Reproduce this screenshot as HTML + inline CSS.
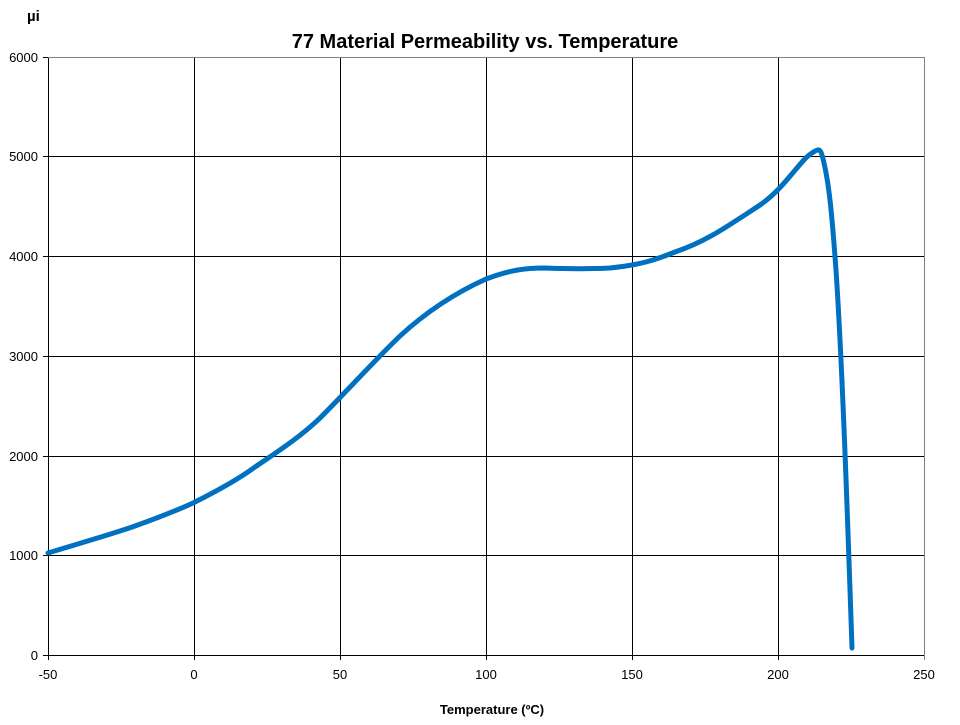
<!DOCTYPE html>
<html><head><style>body{margin:0;background:#fff}</style></head><body>
<svg width="960" height="720" xmlns="http://www.w3.org/2000/svg" font-family="Liberation Sans, sans-serif">
<rect width="960" height="720" fill="#fff"/>
<g stroke="#000" stroke-width="1">
<line x1="48" y1="156.5" x2="924" y2="156.5"/>
<line x1="48" y1="256.5" x2="924" y2="256.5"/>
<line x1="48" y1="356.5" x2="924" y2="356.5"/>
<line x1="48" y1="456.5" x2="924" y2="456.5"/>
<line x1="48" y1="555.5" x2="924" y2="555.5"/>
<line x1="194.5" y1="57" x2="194.5" y2="660"/>
<line x1="340.5" y1="57" x2="340.5" y2="660"/>
<line x1="486.5" y1="57" x2="486.5" y2="660"/>
<line x1="632.5" y1="57" x2="632.5" y2="660"/>
<line x1="778.5" y1="57" x2="778.5" y2="660"/>
<line x1="48.5" y1="57" x2="48.5" y2="660"/>
<line x1="43" y1="655.5" x2="924" y2="655.5"/>
<line x1="43" y1="57.5" x2="48" y2="57.5"/>
<line x1="43" y1="156.5" x2="48" y2="156.5"/><line x1="43" y1="256.5" x2="48" y2="256.5"/>
<line x1="43" y1="356.5" x2="48" y2="356.5"/><line x1="43" y1="456.5" x2="48" y2="456.5"/>
<line x1="43" y1="555.5" x2="48" y2="555.5"/>
</g>
<line x1="48" y1="57.5" x2="924" y2="57.5" stroke="#808080"/>
<line x1="924.5" y1="57" x2="924.5" y2="660" stroke="#808080"/>
<path d="M48,553 C70,546 110,535 135,526 C160,517 180,509 193,503 C215,492 240,478 255,467 C280,450 300,437 320,418 C345,393 375,360 400,336 C425,313 455,293 486,279 C510,270 525,268 545,268 C570,269 590,269 610,268 C640,265 655,260 675,252 C705,242 725,228 760,205 C785,188 800,160 812,153 C818,149 820,148 822,155 C829,180 832,215 836,270 C842,360 847,500 852,648" fill="none" stroke="#0070c0" stroke-width="5" stroke-linejoin="round" stroke-linecap="round"/>
<g font-size="13" text-anchor="end">
<text x="38" y="62">6000</text><text x="38" y="161">5000</text><text x="38" y="261">4000</text>
<text x="38" y="361">3000</text><text x="38" y="461">2000</text><text x="38" y="560">1000</text><text x="38" y="660">0</text>
</g>
<g font-size="13" text-anchor="middle">
<text x="48" y="679">-50</text><text x="194" y="679">0</text><text x="340" y="679">50</text>
<text x="486" y="679">100</text><text x="632" y="679">150</text><text x="778" y="679">200</text><text x="924" y="679">250</text>
</g>
<text x="485" y="48" font-size="20" font-weight="bold" text-anchor="middle">77 Material Permeability vs. Temperature</text>
<text x="27" y="21" font-size="15" font-weight="bold">µi</text>
<text x="492" y="714" font-size="13" font-weight="bold" text-anchor="middle">Temperature (ºC)</text>
</svg>
</body></html>
